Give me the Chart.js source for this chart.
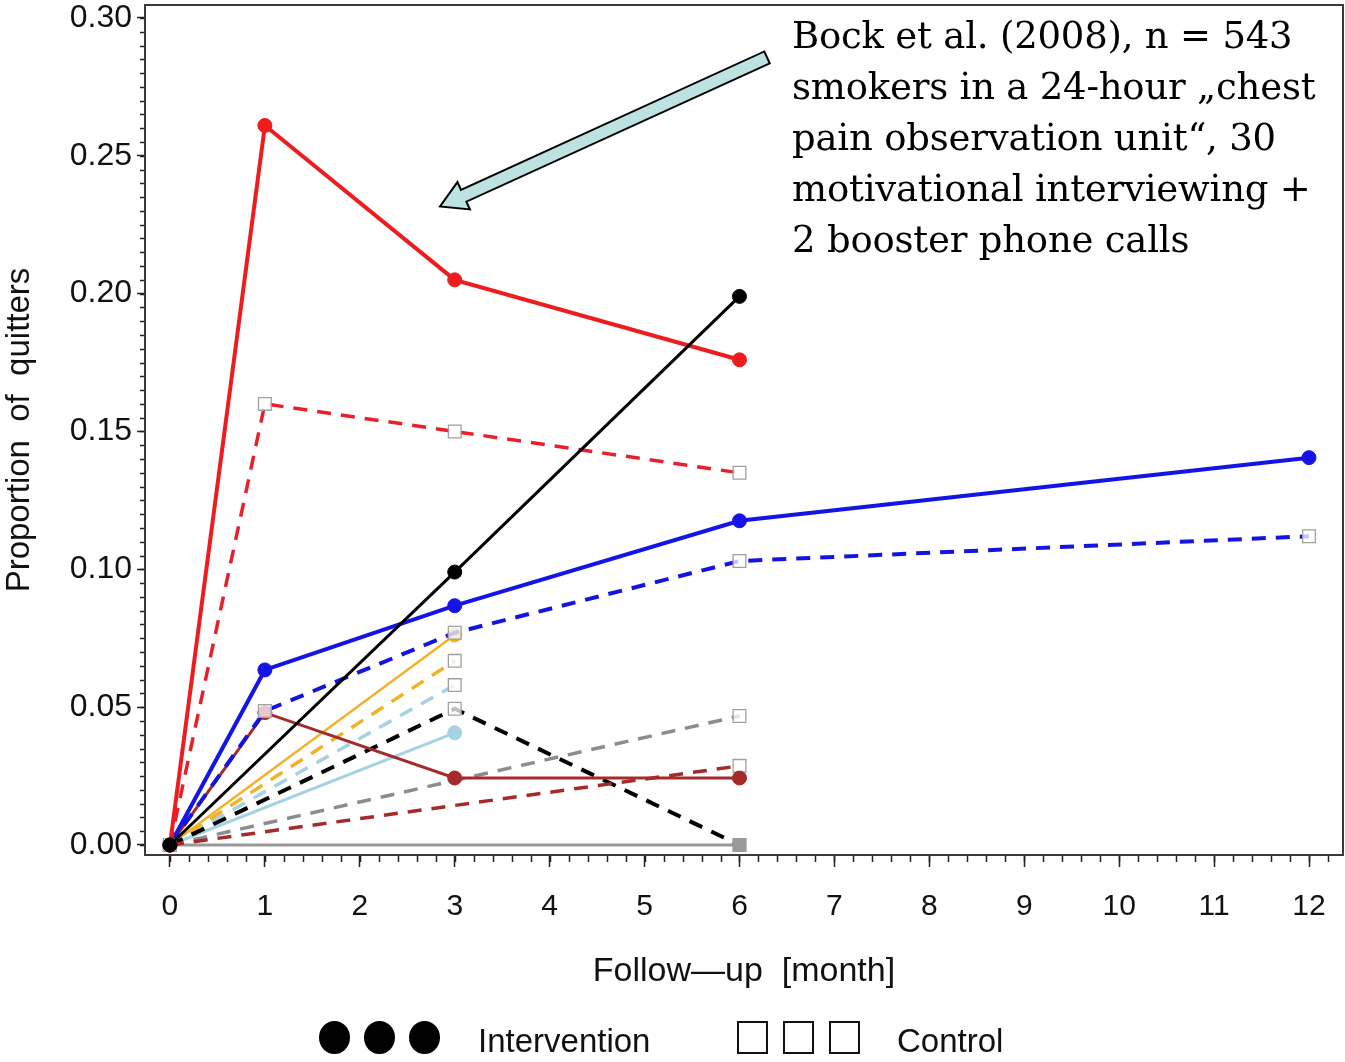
<!DOCTYPE html>
<html>
<head>
<meta charset="utf-8">
<script src="https://cdn.jsdelivr.net/npm/chart.js@4.4.1/dist/chart.umd.min.js"></script>
<style>
  html, body { margin: 0; padding: 0; background: #fff; }
  #wrap { position: relative; width: 1345px; height: 1062px; }
  #note {
    position: absolute; left: 792px; top: 10px;
    font-family: "DejaVu Serif", serif; font-size: 37px; line-height: 51px;
    color: #000; white-space: pre; letter-spacing: -0.2px;
  }
  #legend {
    position: absolute; left: 0; top: 1015px; width: 1345px; height: 47px;
    font-family: "Liberation Sans", Arial, sans-serif; font-size: 33px; color: #111;
  }
  .dot { position: absolute; top: 6px; width: 31px; height: 33px; border-radius: 50%; background: #000; }
  .box { position: absolute; top: 6px; width: 27px; height: 29px; border: 2px solid #111; }
  .lab { position: absolute; top: 7px; }
</style>
</head>
<body>
<div id="wrap">
  <canvas id="chart" width="1345" height="1062"></canvas>
  <div id="note">Bock et al. (2008), n = 543
smokers in a 24-hour „chest
pain observation unit“, 30
motivational interviewing +
2 booster phone calls</div>
  <div id="legend">
    <div class="dot" style="left:319px"></div>
    <div class="dot" style="left:364px"></div>
    <div class="dot" style="left:409px"></div>
    <div class="lab" style="left:478px">Intervention</div>
    <div class="box" style="left:737px"></div>
    <div class="box" style="left:783px"></div>
    <div class="box" style="left:829px"></div>
    <div class="lab" style="left:897px">Control</div>
  </div>
</div>
<script>
// follow-up months where measurements exist
const months = [0, 1, 3, 6, 12];

// intervention (solid, filled circles) and control (dashed, open squares)
const bockInt   = [0, 0.261, 0.205, 0.176, null];
const bockCtl   = [0, 0.160, 0.150, 0.135, null];
const blackInt  = [0, null, 0.099, 0.199, null];
const blackCtl  = [0, null, 0.0494, 0.0, null];
const blueInt   = [0, 0.0635, 0.0868, 0.1176, 0.1405];
const blueCtl   = [0, 0.0486, 0.077, 0.103, 0.112];
const brownInt  = [0, 0.048, 0.0243, 0.0243, null];
const brownCtl  = [0, null, null, 0.0287, null];
const orangeInt = [0, null, 0.0762, null, null];
const orangeCtl = [0, null, 0.0668, null, null];
const ltblueInt = [0, null, 0.0407, null, null];
const ltblueCtl = [0, null, 0.058, null, null];
const grayInt   = [0, null, null, 0.0, null];
const grayCtl   = [0, null, null, 0.0468, null];

const xTicks = [0, 1, 2, 3, 4, 5, 6, 7, 8, 9, 10, 11, 12];
const yTicks = [0.00, 0.05, 0.10, 0.15, 0.20, 0.25, 0.30];

function pts(values) {
  return months.map((m, i) => ({ x: m, y: values[i] })).filter(p => p.y !== null);
}

function solid(values, color, width) {
  return {
    data: pts(values),
    borderColor: color,
    borderWidth: width,
    pointRadius: 7,
    pointStyle: 'circle',
    pointBackgroundColor: color,
    pointBorderColor: color,
    pointBorderWidth: 1
  };
}

function dashed(values, color, width) {
  return {
    data: pts(values),
    borderColor: color,
    borderWidth: width,
    borderDash: [14, 10],
    pointRadius: 9,
    pointStyle: 'rect',
    pointBackgroundColor: 'rgba(255,255,255,0.75)',
    pointBorderColor: '#a0a0a0',
    pointBorderWidth: 1.3
  };
}

const grayFilled = solid(grayInt, '#9a9a9a', 3);
grayFilled.pointStyle = 'rect';
grayFilled.pointRadius = 9;

const datasets = [
  solid(blackInt, '#000000', 3),
  solid(bockInt, '#ee1c1c', 4),
  dashed(bockCtl, '#e8202a', 3.5),
  solid(blueInt, '#1414e6', 4),
  dashed(blueCtl, '#1414e0', 4),
  solid(brownInt, '#a52a2a', 3),
  dashed(brownCtl, '#a52a2a', 3.5),
  grayFilled,
  dashed(blackCtl, '#000000', 4),
  solid(orangeInt, '#f2b226', 2.5),
  dashed(orangeCtl, '#f2b226', 3.5),
  solid(ltblueInt, '#a6d2e4', 3),
  dashed(ltblueCtl, '#a6d2e4', 3.5),
  dashed(grayCtl, '#8c8c8c', 3.5)
];

// frame, minor ticks and the annotation arrow
const extras = {
  id: 'extras',
  afterDraw(chart) {
    const { ctx, chartArea: a, scales: { x, y } } = chart;
    ctx.save();
    ctx.strokeStyle = '#222';
    ctx.lineWidth = 1.5;
    ctx.beginPath();
    for (let v = 0; v <= 0.3001; v += 0.005) {
      const py = Math.round(y.getPixelForValue(v)) + 0.5;
      ctx.moveTo(a.left - 5, py);
      ctx.lineTo(a.left, py);
    }
    for (let v = 0; v <= 12.21; v += 0.2) {
      const px = Math.round(x.getPixelForValue(v)) + 0.5;
      ctx.moveTo(px, a.bottom);
      ctx.lineTo(px, a.bottom + 7);
    }
    ctx.stroke();

    ctx.strokeStyle = '#3a3a3a';
    ctx.lineWidth = 2;
    ctx.strokeRect(a.left, a.top, a.right - a.left, a.bottom - a.top);

    // arrow pointing at the Bock et al. lines
    const tx = x.getPixelForValue(2.845), ty = y.getPixelForValue(0.2316);
    const sx = x.getPixelForValue(6.29), sy = y.getPixelForValue(0.2857);
    const ang = Math.atan2(ty - sy, tx - sx);
    const len = Math.hypot(tx - sx, ty - sy);
    const hw = 6.5, headW = 15, headL = 26;
    ctx.translate(sx, sy);
    ctx.rotate(ang);
    ctx.beginPath();
    ctx.moveTo(0, -hw);
    ctx.lineTo(len - headL, -hw);
    ctx.lineTo(len - headL, -headW);
    ctx.lineTo(len, 0);
    ctx.lineTo(len - headL, headW);
    ctx.lineTo(len - headL, hw);
    ctx.lineTo(0, hw);
    ctx.closePath();
    ctx.fillStyle = '#bde2e2';
    ctx.fill();
    ctx.strokeStyle = '#000';
    ctx.lineWidth = 2;
    ctx.stroke();
    ctx.restore();
  }
};

new Chart(document.getElementById('chart'), {
  type: 'line',
  data: { datasets },
  options: {
    responsive: false,
    animation: false,
    layout: { autoPadding: false, padding: { top: 5, right: 2, left: 0, bottom: 60 } },
    plugins: { legend: { display: false }, tooltip: { enabled: false } },
    elements: { line: { tension: 0 } },
    scales: {
      x: {
        type: 'linear',
        min: -0.263,
        max: 12.358,
        afterFit: (s) => { s.height = 147; s.paddingLeft = 0; s.paddingRight = 0; },
        afterBuildTicks: (s) => { s.ticks = xTicks.map(v => ({ value: v })); },
        grid: { drawOnChartArea: false, tickLength: 12, tickColor: '#222', tickWidth: 1.5 },
        border: { display: false },
        ticks: {
          color: '#111',
          padding: 22,
          font: { family: 'Liberation Sans', size: 30 },
          callback: (v) => String(v)
        },
        title: {
          display: true,
          text: 'Follow\u2014up  [month]',
          color: '#111',
          font: { family: 'Liberation Sans', size: 34 },
          padding: { top: 20, bottom: 10 }
        }
      },
      y: {
        min: -0.00363,
        max: 0.3047,
        afterFit: (s) => { s.width = 145; s.paddingTop = 0; s.paddingBottom = 0; },
        afterBuildTicks: (s) => { s.ticks = yTicks.map(v => ({ value: v })); },
        grid: { drawOnChartArea: false, tickLength: 8, tickColor: '#222', tickWidth: 1.5 },
        border: { display: false },
        ticks: {
          color: '#111',
          padding: 5,
          font: { family: 'Liberation Sans', size: 32 },
          callback: (v) => v.toFixed(2)
        },
        title: {
          display: true,
          text: 'Proportion  of  quitters',
          color: '#111',
          font: { family: 'Liberation Sans', size: 33 },
          padding: { top: 0, bottom: 4 }
        }
      }
    }
  },
  plugins: [extras]
});
</script>
</body>
</html>
